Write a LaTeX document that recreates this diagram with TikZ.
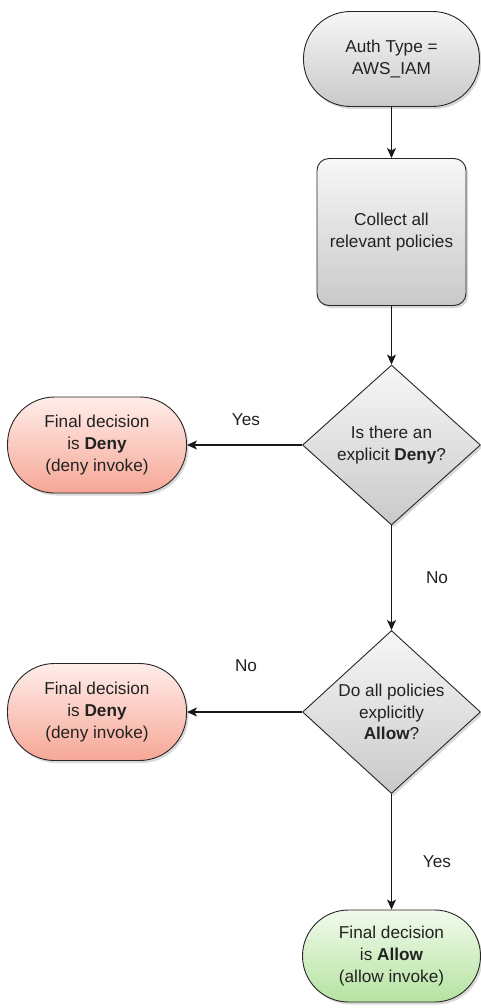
\documentclass[tikz,border=0pt]{standalone}
\usepackage{fontspec}
\setmainfont{Liberation Sans}
\usetikzlibrary{shapes.geometric,shadows,arrows.meta}
\definecolor{txt}{HTML}{222222}
\definecolor{gtop}{HTML}{F7F7F7}
\definecolor{gbot}{HTML}{C9C9C9}
\definecolor{rtop}{HTML}{FFEDEA}
\definecolor{rbot}{HTML}{F6A796}
\definecolor{ltop}{HTML}{F1FAEC}
\definecolor{lbot}{HTML}{B5E3A0}
\tikzset{
  base/.style={draw=black!85, line width=0.9pt, text=txt, align=center,
    font=\fontsize{17.2pt}{21.7pt}\selectfont, inner sep=0pt,
    drop shadow={shadow xshift=2pt, shadow yshift=-2.5pt, opacity=0.3}},
  term/.style={base, rectangle, rounded corners=47pt},
  grayfill/.style={top color=gtop, bottom color=gbot},
  redfill/.style={top color=rtop, bottom color=rbot},
  greenfill/.style={top color=ltop, bottom color=lbot},
  procbox/.style={base, rectangle, rounded corners=12pt, grayfill},
  decision/.style={base, diamond, grayfill, aspect=1.1},
  conn/.style={draw=black!90, line width=1.1pt, -{Stealth[length=10pt,width=9pt,inset=2.5pt]}},
  lbl/.style={text=txt, font=\fontsize{17.2pt}{20pt}\selectfont}
}
\begin{document}
\begin{tikzpicture}[x=1pt,y=1pt]
\useasboundingbox (0,0) rectangle (481,-1008);
\node[term, grayfill, minimum width=176pt, minimum height=95pt] (start) at (391.5,-59) {Auth Type =\\AWS\_IAM};
\node[procbox, minimum width=149pt, minimum height=147pt] (collect) at (391.5,-232) {Collect all\\relevant policies};
\node[decision, minimum width=178pt, minimum height=160pt] (d1) at (391.5,-445) {Is there an\\explicit \textbf{Deny}?};
\node[term, redfill, minimum width=179pt, minimum height=96pt] (deny1) at (97,-445) {Final decision\\is \textbf{Deny}\\(deny invoke)};
\node[decision, minimum width=178pt, minimum height=163pt] (d2) at (391.5,-712) {Do all policies\\explicitly\\\textbf{Allow}?};
\node[term, redfill, minimum width=179pt, minimum height=97pt] (deny2) at (97,-712) {Final decision\\is \textbf{Deny}\\(deny invoke)};
\node[term, greenfill, minimum width=178pt, minimum height=92pt, rounded corners=46pt] (allow) at (391.5,-956) {Final decision\\is \textbf{Allow}\\(allow invoke)};

\draw[conn] (start.south) -- (collect.north);
\draw[conn] (collect.south) -- (d1.north);
\draw[conn] (d1.west) -- (deny1.east);
\draw[conn] (d1.south) -- (d2.north);
\draw[conn] (d2.west) -- (deny2.east);
\draw[conn] (d2.south) -- (allow.north);

\node[lbl] (lyes1) at (246,-420) {Yes};
\node[lbl] (lno1) at (437,-578) {No};
\node[lbl] (lno2) at (246,-666) {No};
\node[lbl] (lyes2) at (437,-862) {Yes};
\end{tikzpicture}
\end{document}
